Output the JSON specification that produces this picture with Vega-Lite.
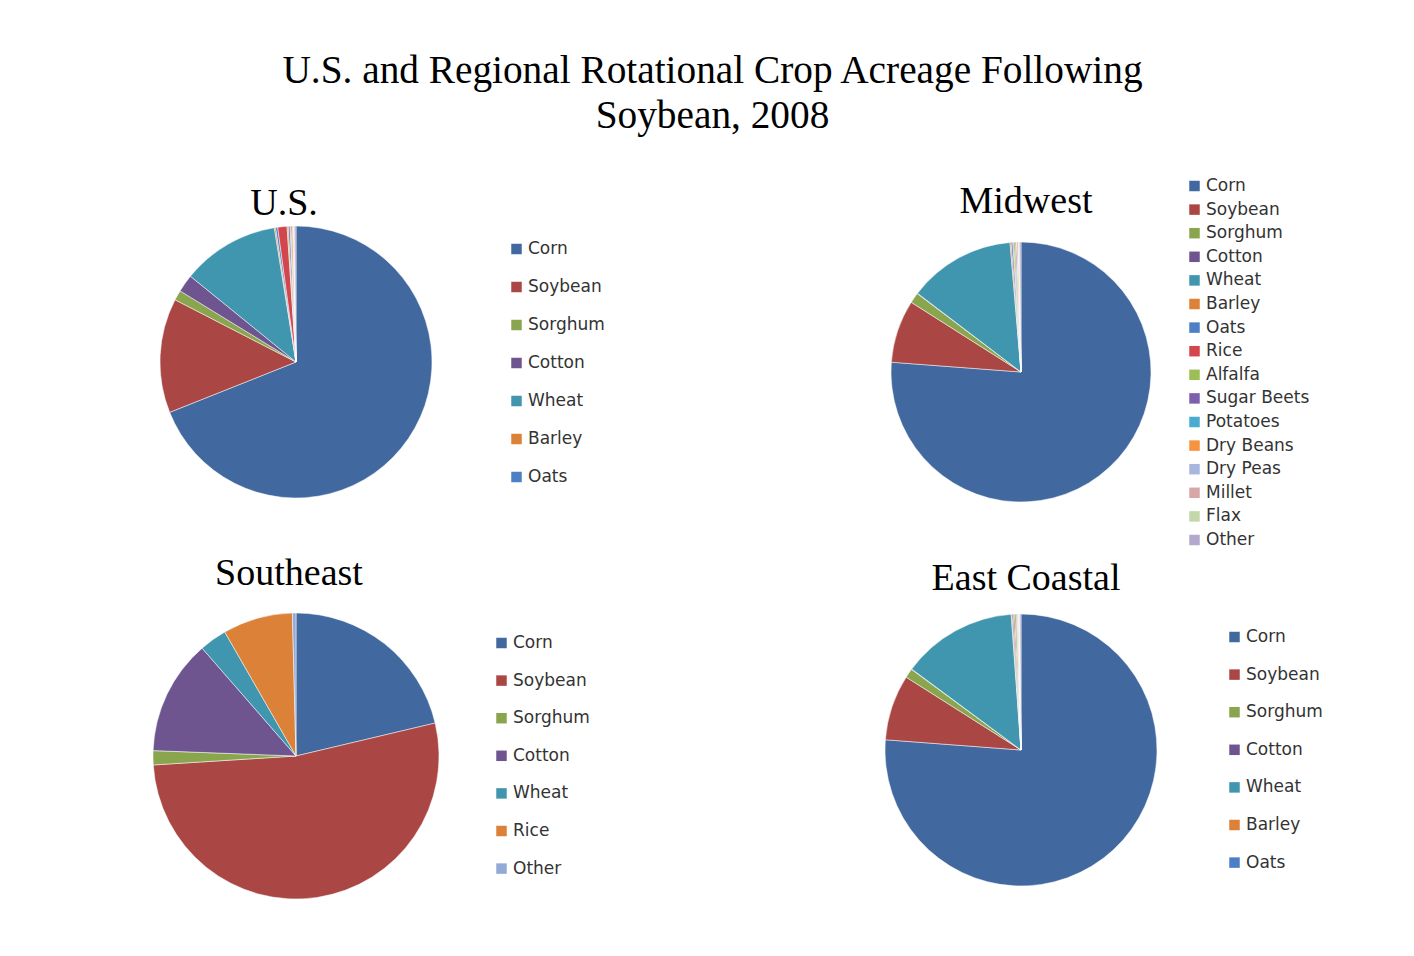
{
  "$schema": "https://vega.github.io/schema/vega-lite/v6.json",
  "background": "white",
  "padding": {"left": 146, "top": 51, "right": 20, "bottom": 10},
  "bounds": "flush",
  "title": {
    "text": ["U.S. and Regional Rotational Crop Acreage Following", "Soybean, 2008"],
    "font": "Liberation Serif", "fontSize": 39.3, "fontWeight": "normal", "color": "#000000",
    "lineHeight": 45, "baseline": "alphabetic", "offset": 4, "anchor": "middle", "dx": -22
  },
  "datasets": {
    "us": [
      {"crop": "Corn", "idx": 1, "share": 69.0},
      {"crop": "Soybean", "idx": 2, "share": 13.6},
      {"crop": "Sorghum", "idx": 3, "share": 1.2},
      {"crop": "Cotton", "idx": 4, "share": 2.1},
      {"crop": "Wheat", "idx": 5, "share": 11.6},
      {"crop": "Barley", "idx": 6, "share": 0.15},
      {"crop": "Oats", "idx": 7, "share": 0.25},
      {"crop": "Rice", "idx": 8, "share": 1.1},
      {"crop": "Alfalfa", "idx": 9, "share": 0.15},
      {"crop": "Sugar Beets", "idx": 10, "share": 0.2},
      {"crop": "Potatoes", "idx": 11, "share": 0.1},
      {"crop": "Dry Beans", "idx": 12, "share": 0.2},
      {"crop": "Dry Peas", "idx": 13, "share": 0.1},
      {"crop": "Millet", "idx": 14, "share": 0.05},
      {"crop": "Flax", "idx": 15, "share": 0.05},
      {"crop": "Other", "idx": 16, "share": 0.2}
    ],
    "mw": [
      {"crop": "Corn", "idx": 1, "share": 76.2},
      {"crop": "Soybean", "idx": 2, "share": 7.8},
      {"crop": "Sorghum", "idx": 3, "share": 1.3},
      {"crop": "Cotton", "idx": 4, "share": 0.05},
      {"crop": "Wheat", "idx": 5, "share": 13.3},
      {"crop": "Barley", "idx": 6, "share": 0.15},
      {"crop": "Oats", "idx": 7, "share": 0.2},
      {"crop": "Rice", "idx": 8, "share": 0.1},
      {"crop": "Alfalfa", "idx": 9, "share": 0.2},
      {"crop": "Sugar Beets", "idx": 10, "share": 0.15},
      {"crop": "Potatoes", "idx": 11, "share": 0.05},
      {"crop": "Dry Beans", "idx": 12, "share": 0.15},
      {"crop": "Dry Peas", "idx": 13, "share": 0.05},
      {"crop": "Millet", "idx": 14, "share": 0.05},
      {"crop": "Flax", "idx": 15, "share": 0.05},
      {"crop": "Other", "idx": 16, "share": 0.2}
    ],
    "se": [
      {"crop": "Corn", "idx": 1, "share": 21.3},
      {"crop": "Soybean", "idx": 2, "share": 52.7},
      {"crop": "Sorghum", "idx": 3, "share": 1.6},
      {"crop": "Cotton", "idx": 4, "share": 13.0},
      {"crop": "Wheat", "idx": 5, "share": 3.1},
      {"crop": "Rice", "idx": 6, "share": 7.9},
      {"crop": "Other", "idx": 7, "share": 0.4}
    ],
    "ec": [
      {"crop": "Corn", "idx": 1, "share": 76.2},
      {"crop": "Soybean", "idx": 2, "share": 7.8},
      {"crop": "Sorghum", "idx": 3, "share": 1.1},
      {"crop": "Cotton", "idx": 4, "share": 0.05},
      {"crop": "Wheat", "idx": 5, "share": 13.7},
      {"crop": "Barley", "idx": 6, "share": 0.1},
      {"crop": "Oats", "idx": 7, "share": 0.15},
      {"crop": "Rice", "idx": 8, "share": 0.15},
      {"crop": "Alfalfa", "idx": 9, "share": 0.2},
      {"crop": "Sugar Beets", "idx": 10, "share": 0.1},
      {"crop": "Potatoes", "idx": 11, "share": 0.05},
      {"crop": "Dry Beans", "idx": 12, "share": 0.1},
      {"crop": "Dry Peas", "idx": 13, "share": 0.05},
      {"crop": "Millet", "idx": 14, "share": 0.05},
      {"crop": "Flax", "idx": 15, "share": 0.05},
      {"crop": "Other", "idx": 16, "share": 0.15}
    ]
  },
  "columns": 2,
  "spacing": {"row": 8, "column": 425},
  "concat": [
    {
      "width": 300, "height": 382,
      "title": {"text": "U.S.", "font": "Liberation Serif", "fontSize": 38, "fontWeight": "normal", "color": "#000000", "baseline": "alphabetic", "offset": -81.5, "dx": -12, "frame": "group", "anchor": "middle"},
      "data": {"name": "us"},
      "mark": {"type": "arc", "outerRadius": 136, "stroke": "#ffffff", "strokeWidth": 0.5},
      "encoding": {
        "theta": {"field": "share", "type": "quantitative", "stack": true},
        "order": {"field": "idx", "type": "quantitative"},
        "color": {
          "field": "crop", "type": "nominal",
          "scale": {
            "domain": ["Corn", "Soybean", "Sorghum", "Cotton", "Wheat", "Barley", "Oats", "Rice", "Alfalfa", "Sugar Beets", "Potatoes", "Dry Beans", "Dry Peas", "Millet", "Flax", "Other"],
            "range": ["#4169A0", "#AA4643", "#89A54E", "#6E5590", "#3F96AE", "#DB8138", "#4C7FC4", "#D2464C", "#9CBE56", "#7C60AD", "#48ABCF", "#F7923F", "#A7B7DD", "#D9A6A6", "#C3D7AB", "#B3A9CF"]
          },
          "legend": {"orient": "none", "legendX": 362, "legendY": 69.5, "rowPadding": 20, "values": ["Corn", "Soybean", "Sorghum", "Cotton", "Wheat", "Barley", "Oats"]}
        }
      }
    },
    {
      "width": 300, "height": 402,
      "title": {"text": "Midwest", "font": "Liberation Serif", "fontSize": 38, "fontWeight": "normal", "color": "#000000", "baseline": "alphabetic", "offset": -79.5, "dx": 5, "frame": "group", "anchor": "middle"},
      "data": {"name": "mw"},
      "mark": {"type": "arc", "outerRadius": 130, "stroke": "#ffffff", "strokeWidth": 0.5},
      "encoding": {
        "theta": {"field": "share", "type": "quantitative", "stack": true},
        "order": {"field": "idx", "type": "quantitative"},
        "color": {
          "field": "crop", "type": "nominal",
          "scale": {
            "domain": ["Corn", "Soybean", "Sorghum", "Cotton", "Wheat", "Barley", "Oats", "Rice", "Alfalfa", "Sugar Beets", "Potatoes", "Dry Beans", "Dry Peas", "Millet", "Flax", "Other"],
            "range": ["#4169A0", "#AA4643", "#89A54E", "#6E5590", "#3F96AE", "#DB8138", "#4C7FC4", "#D2464C", "#9CBE56", "#7C60AD", "#48ABCF", "#F7923F", "#A7B7DD", "#D9A6A6", "#C3D7AB", "#B3A9CF"]
          },
          "legend": {"orient": "none", "legendX": 315, "legendY": 6.5, "rowPadding": 5.6}
        }
      }
    },
    {
      "width": 300, "height": 350,
      "title": {"text": "Southeast", "font": "Liberation Serif", "fontSize": 38, "fontWeight": "normal", "color": "#000000", "baseline": "alphabetic", "offset": -41.5, "dx": -7, "frame": "group", "anchor": "middle"},
      "data": {"name": "se"},
      "mark": {"type": "arc", "outerRadius": 143, "stroke": "#ffffff", "strokeWidth": 0.5},
      "encoding": {
        "theta": {"field": "share", "type": "quantitative", "stack": true},
        "order": {"field": "idx", "type": "quantitative"},
        "color": {
          "field": "crop", "type": "nominal",
          "scale": {
            "domain": ["Corn", "Soybean", "Sorghum", "Cotton", "Wheat", "Rice", "Other"],
            "range": ["#4169A0", "#AA4643", "#89A54E", "#6E5590", "#3F96AE", "#DB8138", "#93A9D6"]
          },
          "legend": {"orient": "none", "legendX": 347, "legendY": 53.5, "rowPadding": 19.6}
        }
      }
    },
    {
      "width": 300, "height": 338,
      "title": {"text": "East Coastal", "font": "Liberation Serif", "fontSize": 38, "fontWeight": "normal", "color": "#000000", "baseline": "alphabetic", "offset": -46.5, "dx": 5, "frame": "group", "anchor": "middle"},
      "data": {"name": "ec"},
      "mark": {"type": "arc", "outerRadius": 136, "stroke": "#ffffff", "strokeWidth": 0.5},
      "encoding": {
        "theta": {"field": "share", "type": "quantitative", "stack": true},
        "order": {"field": "idx", "type": "quantitative"},
        "color": {
          "field": "crop", "type": "nominal",
          "scale": {
            "domain": ["Corn", "Soybean", "Sorghum", "Cotton", "Wheat", "Barley", "Oats", "Rice", "Alfalfa", "Sugar Beets", "Potatoes", "Dry Beans", "Dry Peas", "Millet", "Flax", "Other"],
            "range": ["#4169A0", "#AA4643", "#89A54E", "#6E5590", "#3F96AE", "#DB8138", "#4C7FC4", "#D2464C", "#9CBE56", "#7C60AD", "#48ABCF", "#F7923F", "#A7B7DD", "#D9A6A6", "#C3D7AB", "#B3A9CF"]
          },
          "legend": {"orient": "none", "legendX": 355, "legendY": 47.5, "rowPadding": 19.6, "values": ["Corn", "Soybean", "Sorghum", "Cotton", "Wheat", "Barley", "Oats"]}
        }
      }
    }
  ],
  "resolve": {"scale": {"color": "independent", "theta": "independent"}, "legend": {"color": "independent"}},
  "config": {
    "view": {"stroke": null},
    "legend": {
      "title": null,
      "padding": 0,
      "symbolType": "square",
      "symbolSize": 110,
      "symbolStrokeWidth": 0,
      "symbolOpacity": 1,
      "labelFont": "DejaVu Sans",
      "labelFontSize": 17,
      "labelColor": "#333333",
      "labelOffset": 3,
      "labelLimit": 300,
      "columns": 1,
      "direction": "vertical"
    }
  }
}
